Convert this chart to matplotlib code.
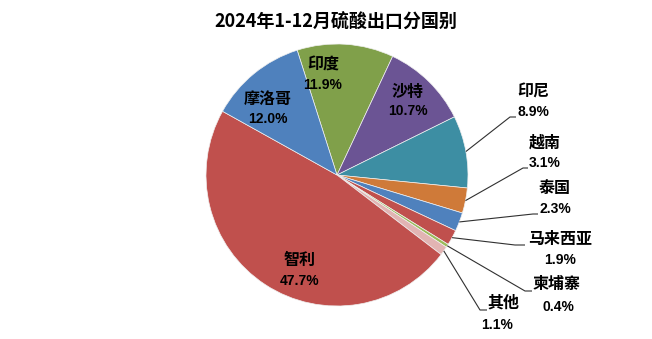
import numpy as np
import matplotlib
matplotlib.use('Agg')
import matplotlib.pyplot as plt

plt.rcParams['font.family'] = ['Noto Sans CJK SC', 'DejaVu Sans']

# 2024 sulfuric acid exports by destination, share in percent
countries = ['印度', '沙特', '印尼', '越南', '泰国', '马来西亚', '柬埔寨', '其他', '智利', '摩洛哥']
shares = [11.9, 10.7, 8.9, 3.1, 2.3, 1.9, 0.4, 1.1, 47.7, 12.0]
colors = ['#80A04A', '#6B5494', '#3D8EA3', '#CF7A39', '#4F81BD',
          '#C0504D', '#9BBB59', '#E2B4B3', '#C0504D', '#4F81BD']

W, H = 652, 339
CX, CY, R = 337, 175, 131


def Y(y):
    return H - y


fig = plt.figure(figsize=(W / 100, H / 100), dpi=100)
ax = fig.add_axes([0, 0, 1, 1])

wedges, _ = ax.pie(shares, colors=colors, startangle=107.7, counterclock=False,
                   center=(CX, Y(CY)), radius=R,
                   wedgeprops=dict(edgecolor='#f0f0f0', linewidth=0.5))
ax.set_xlim(0, W)
ax.set_ylim(0, H)
ax.set_aspect('equal')
ax.axis('off')

# labels sitting inside the big slices: name, pct
inside = {
    '印度': (323, 65, 85),
    '沙特': (408, 92, 111),
    '智利': (300, 260, 281),
    '摩洛哥': (268, 99, 119),
}
# labels outside with leader lines: name pos, pct pos, elbow, line end
outside = {
    '印尼': ((533, 92), (533, 112), (510, 117), (516, 117)),
    '越南': ((545, 143), (545, 163), (523, 168), (528, 168)),
    '泰国': ((555, 188), (555, 209), (533, 214), (538, 214)),
    '马来西亚': ((560, 239), (560, 260), (515, 245), (525, 245)),
    '柬埔寨': ((557, 284), (558, 307), (525, 291), (532, 291)),
    '其他': ((503, 303), (497, 325), (480, 310), (487, 310)),
}

name_kw = dict(fontsize=11.5, ha='center', va='center', color='black', fontweight='bold')
pct_kw = dict(fontsize=10, ha='center', va='center', color='black',
              fontweight='bold', family=['Liberation Sans', 'DejaVu Sans'])

for name, share, w in zip(countries, shares, wedges):
    pct = '%.1f%%' % share
    if name in inside:
        x, yn, yp = inside[name]
        ax.text(x, Y(yn), name, **name_kw)
        ax.text(x, Y(yp), pct, **pct_kw)
    else:
        (nx, ny), (px, py), (ex, ey), (lx, ly) = outside[name]
        mid = np.deg2rad((w.theta1 + w.theta2) / 2)
        sx = CX + R * np.cos(mid)
        sy = Y(CY) + R * np.sin(mid)
        ax.plot([sx, ex, lx], [sy, Y(ey), Y(ly)], color='#303030', lw=0.8,
                solid_capstyle='butt')
        ax.text(nx, Y(ny), name, **name_kw)
        ax.text(px, Y(py), pct, **pct_kw)

ax.text(336, Y(22), '2024年1-12月硫酸出口分国别', fontsize=13, fontweight='bold',
        ha='center', va='center', color='black')

fig.savefig('out.png', dpi=100)
